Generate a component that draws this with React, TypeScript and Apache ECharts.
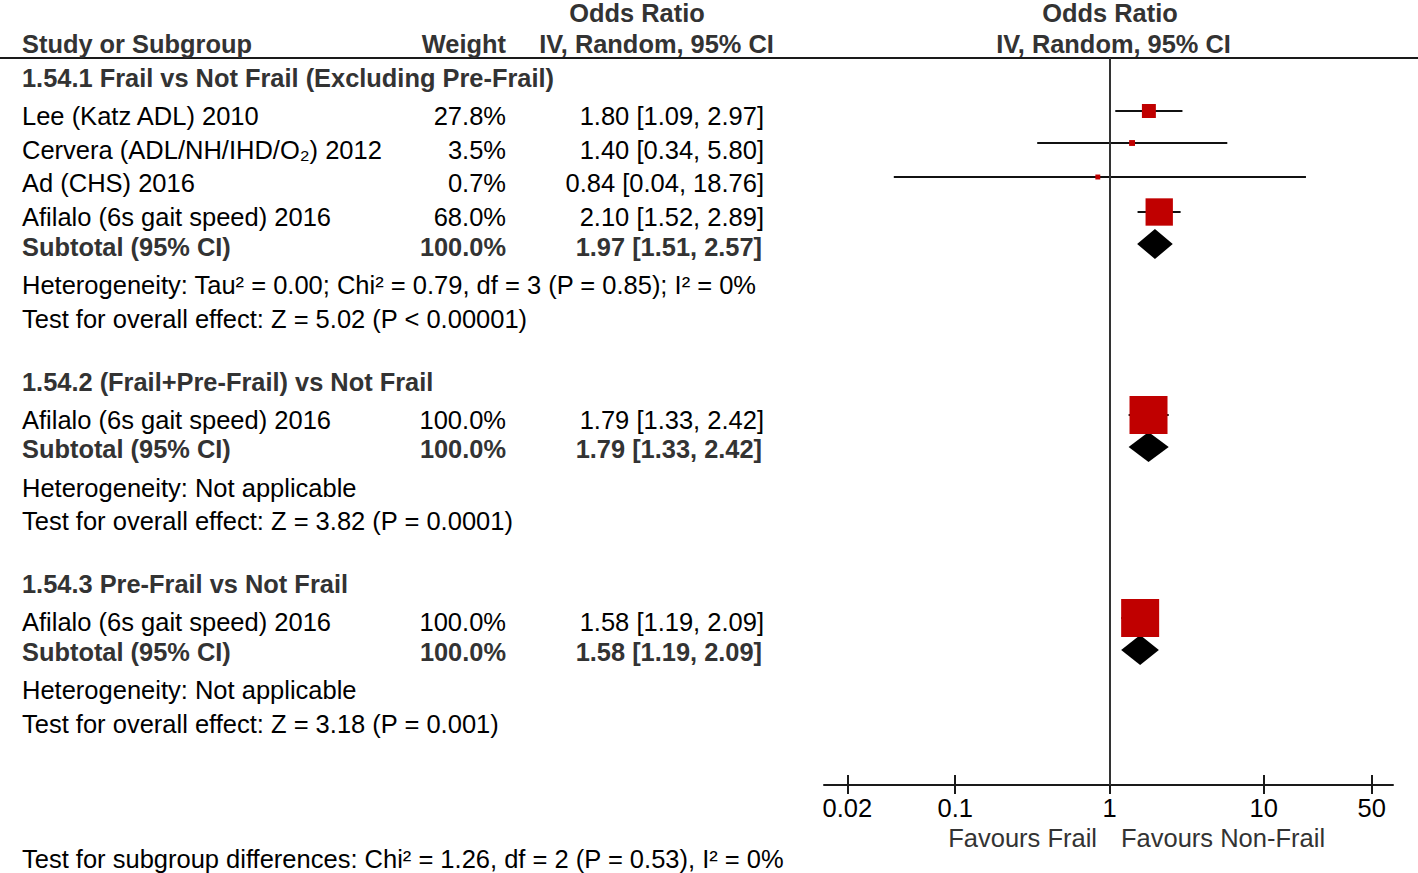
import React, { useEffect, useRef } from "react";
import * as echarts from "echarts";

// ---------------- DATA ----------------
const studyNames = [
  "Lee (Katz ADL) 2010",
  "Cervera (ADL/NH/IHD/O₂) 2012",
  "Ad (CHS) 2016",
  "Afilalo (6s gait speed) 2016",
  "Afilalo (6s gait speed) 2016",
  "Afilalo (6s gait speed) 2016",
];
const studyWeight = [27.8, 3.5, 0.7, 68.0, 100.0, 100.0];
const studyOR = [1.8, 1.4, 0.84, 2.1, 1.79, 1.58];
const studyLo = [1.09, 0.34, 0.04, 1.52, 1.33, 1.19];
const studyHi = [2.97, 5.8, 18.76, 2.89, 2.42, 2.09];

const groupTitles = [
  "1.54.1 Frail vs Not Frail (Excluding Pre-Frail)",
  "1.54.2 (Frail+Pre-Frail) vs Not Frail",
  "1.54.3 Pre-Frail vs Not Frail",
];
const subtotalWeight = [100.0, 100.0, 100.0];
const subtotalOR = [1.97, 1.79, 1.58];
const subtotalLo = [1.51, 1.33, 1.19];
const subtotalHi = [2.57, 2.42, 2.09];
const heterogeneityText = [
  "Heterogeneity: Tau² = 0.00; Chi² = 0.79, df = 3 (P = 0.85); I² = 0%",
  "Heterogeneity: Not applicable",
  "Heterogeneity: Not applicable",
];
const overallEffectText = [
  "Test for overall effect: Z = 5.02 (P < 0.00001)",
  "Test for overall effect: Z = 3.82 (P = 0.0001)",
  "Test for overall effect: Z = 3.18 (P = 0.001)",
];
const subgroupDiffText =
  "Test for subgroup differences: Chi² = 1.26, df = 2 (P = 0.53), I² = 0%";

const tickValues = [0.02, 0.1, 1, 10, 50];
const tickLabels = ["0.02", "0.1", "1", "10", "50"];
const favoursLeft = "Favours Frail";
const favoursRight = "Favours Non-Frail";

// ---------------- LAYOUT (page pixels) ----------------
const W = 1418;
const H = 873;
const FONT = '"Liberation Sans", Arial, Helvetica, sans-serif';
const FS = 25.5;
const FS_BOLD = 25.4;
const HEADER_LINE_Y = 58;
const AXIS_Y = 785;
const PLOT_LEFT = 824;
const PLOT_RIGHT = 1393;
// axis extent so that 1 -> x=1109.5 with ~154.3px per decade
const PX_PER_DECADE = 154.3;
const X_ONE = 1109.5;
const XMIN = Math.pow(10, (PLOT_LEFT - X_ONE) / PX_PER_DECADE);
const XMAX = Math.pow(10, (PLOT_RIGHT - X_ONE) / PX_PER_DECADE);

// text rows
const groupTitleY = [78, 382, 584];
const studyTextY = [116, 150, 183, 217, 420, 622];
const subtotalTextY = [247, 449, 652];
const hetRowY = [285, 488, 690];
const testRowY = [319, 521, 724];
// mark rows
const studyMarkY = [111, 143, 177, 212, 415, 618];
const subtotalMarkY = [244, 447, 650];

const COL_NAME = 22;
const COL_WEIGHT = 506;
const COL_CI = 764;
const COL_CI_BOLD = 762;

const RED = "#C00000";
const DARK = "#333333";

function fmtCI(o: number, l: number, h: number) {
  return `${o.toFixed(2)} [${l.toFixed(2)}, ${h.toFixed(2)}]`;
}

function txt(
  text: string,
  x: number,
  y: number,
  align: "left" | "right" | "center" = "left",
  bold = false,
  fill?: string
) {
  return {
    type: "text",
    silent: true,
    style: {
      text,
      x,
      y,
      align,
      verticalAlign: "middle",
      fontSize: bold ? FS_BOLD : FS,
      fontFamily: FONT,
      fontWeight: bold ? "bold" : "normal",
      fill: fill || (bold ? DARK : "#000000"),
    },
  };
}

function buildOption() {
  const graphics: any[] = [];
  graphics.push({
    type: "line",
    silent: true,
    shape: { x1: 0, y1: HEADER_LINE_Y, x2: W, y2: HEADER_LINE_Y },
    style: { stroke: "#1a1a1a", lineWidth: 2 },
  });
  graphics.push(txt("Odds Ratio", 637, 13, "center", true));
  graphics.push(txt("Odds Ratio", 1110, 13, "center", true));
  graphics.push(txt("Study or Subgroup", COL_NAME, 44, "left", true));
  graphics.push(txt("Weight", COL_WEIGHT, 44, "right", true));
  graphics.push(txt("IV, Random, 95% CI", 656.5, 44, "center", true));
  graphics.push(txt("IV, Random, 95% CI", 1113.5, 44, "center", true));

  const studyGroupStart = [0, 4, 5];
  const studyGroupEnd = [4, 5, 6];
  for (let g = 0; g < groupTitles.length; g++) {
    graphics.push(txt(groupTitles[g], COL_NAME, groupTitleY[g], "left", true));
    for (let i = studyGroupStart[g]; i < studyGroupEnd[g]; i++) {
      const y = studyTextY[i];
      graphics.push(txt(studyNames[i], COL_NAME, y));
      graphics.push(txt(`${studyWeight[i].toFixed(1)}%`, COL_WEIGHT, y, "right"));
      graphics.push(txt(fmtCI(studyOR[i], studyLo[i], studyHi[i]), COL_CI, y, "right"));
    }
    const sy = subtotalTextY[g];
    graphics.push(txt("Subtotal (95% CI)", COL_NAME, sy, "left", true));
    graphics.push(txt(`${subtotalWeight[g].toFixed(1)}%`, COL_WEIGHT, sy, "right", true));
    graphics.push(
      txt(fmtCI(subtotalOR[g], subtotalLo[g], subtotalHi[g]), COL_CI_BOLD, sy, "right", true)
    );
    graphics.push(txt(heterogeneityText[g], COL_NAME, hetRowY[g]));
    graphics.push(txt(overallEffectText[g], COL_NAME, testRowY[g]));
  }
  graphics.push(txt(subgroupDiffText, COL_NAME, 859));
  graphics.push(txt(favoursLeft, 1097, 838, "right", false, DARK));
  graphics.push(txt(favoursRight, 1121, 838, "left", false, DARK));

  const labelFor = (v: number) => {
    let best = 0;
    for (let i = 1; i < tickValues.length; i++) {
      if (Math.abs(Math.log10(tickValues[i]) - Math.log10(v)) <
          Math.abs(Math.log10(tickValues[best]) - Math.log10(v))) best = i;
    }
    return tickLabels[best];
  };

  const ciData = studyOR.map((_, i) => [studyLo[i], studyHi[i], studyMarkY[i]]);
  const squareData = studyOR.map((o, i) => [o, studyMarkY[i], studyWeight[i]]);
  const diamondData = subtotalOR.map((o, i) => [
    subtotalLo[i],
    o,
    subtotalHi[i],
    subtotalMarkY[i],
  ]);

  const axisCommon = {
    type: "log",
    logBase: 10,
    min: XMIN,
    max: XMAX,
    position: "bottom",
    gridIndex: 0,
    splitLine: { show: false },
  };

  return {
    animation: false,
    backgroundColor: "#ffffff",
    grid: {
      left: PLOT_LEFT,
      right: W - PLOT_RIGHT,
      top: HEADER_LINE_Y,
      bottom: H - AXIS_Y,
      containLabel: false,
    },
    xAxis: [
      {
        ...axisCommon,
        axisLine: { show: true, onZero: false, lineStyle: { color: "#1a1a1a", width: 2 } },
        axisTick: {
          show: true,
          customValues: tickValues,
          length: 9,
          lineStyle: { color: "#1a1a1a", width: 2 },
        },
        axisLabel: {
          show: true,
          customValues: tickValues,
          formatter: (v: number) => labelFor(v),
          fontSize: FS,
          fontFamily: FONT,
          color: "#000",
          margin: 10,
        },
      },
      {
        ...axisCommon,
        axisLine: { show: false, onZero: false },
        axisTick: {
          show: true,
          inside: true,
          customValues: tickValues,
          length: 10,
          lineStyle: { color: "#1a1a1a", width: 2 },
        },
        axisLabel: { show: false },
      },
    ],
    yAxis: {
      type: "value",
      inverse: true,
      min: HEADER_LINE_Y,
      max: AXIS_Y,
      show: false,
      splitLine: { show: false },
    },
    series: [
      {
        type: "custom",
        name: "CI",
        xAxisIndex: 0,
        data: ciData,
        encode: { x: [0, 1], y: 2 },
        z: 2,
        silent: true,
        renderItem: (_p: any, api: any) => {
          const a = api.coord([api.value(0), api.value(2)]);
          const b = api.coord([api.value(1), api.value(2)]);
          return {
            type: "line",
            shape: { x1: a[0], y1: a[1], x2: b[0], y2: b[1] },
            style: { stroke: "#111111", lineWidth: 2 },
          };
        },
        markLine: {
          silent: true,
          symbol: ["none", "none"],
          label: { show: false },
          lineStyle: { color: "#333333", width: 2, type: "solid" },
          data: [{ xAxis: 1 }],
        },
      },
      {
        type: "scatter",
        name: "Study",
        xAxisIndex: 0,
        data: squareData,
        symbol: "rect",
        symbolSize: (val: number[]) => 4.7 + 0.333 * val[2],
        itemStyle: { color: RED, opacity: 1 },
        z: 3,
        silent: true,
      },
      {
        type: "custom",
        name: "Subtotal",
        xAxisIndex: 0,
        data: diamondData,
        encode: { x: [0, 1, 2], y: 3 },
        z: 3,
        silent: true,
        renderItem: (_p: any, api: any) => {
          const y = api.value(3);
          const l = api.coord([api.value(0), y]);
          const c = api.coord([api.value(1), y]);
          const r = api.coord([api.value(2), y]);
          const hh = 15;
          return {
            type: "polygon",
            shape: {
              points: [
                [l[0], l[1]],
                [c[0], c[1] - hh],
                [r[0], r[1]],
                [c[0], c[1] + hh],
              ],
            },
            style: { fill: "#000000" },
          };
        },
      },
    ],
    graphic: { elements: graphics },
  };
}

export default function App() {
  const ref = useRef<HTMLDivElement>(null);
  useEffect(() => {
    if (!ref.current) return;
    const chart = echarts.init(ref.current, null, { renderer: "svg" });
    chart.setOption(buildOption() as any);
    return () => chart.dispose();
  }, []);
  return (
    <div
      ref={ref}
      style={{
        position: "fixed",
        left: 0,
        top: 0,
        width: W,
        height: H,
        background: "#fff",
      }}
    />
  );
}
